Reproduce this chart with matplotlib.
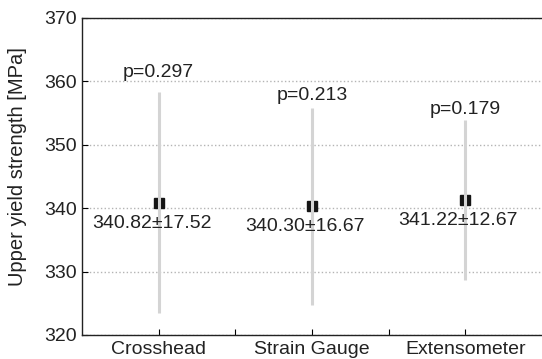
import numpy as np
import matplotlib
matplotlib.use("Agg")
import matplotlib.pyplot as plt

plt.rcParams['font.family'] = ['Liberation Sans', 'DejaVu Sans']

# data
methods = ['Crosshead', 'Strain Gauge', 'Extensometer']
means = [340.82, 340.30, 341.22]
sds = [17.52, 16.67, 12.67]
p_values = [0.297, 0.213, 0.179]
# whisker ends
bar_low = [323.5, 324.8, 328.6]
bar_high = [358.3, 355.8, 353.9]
p_label_y = [361.4, 357.7, 355.5]

x = np.arange(1, len(methods) + 1)

fig = plt.figure(figsize=(5.42, 3.59), dpi=100)
ax = fig.add_axes([0.151, 0.067, 0.849, 0.883])

# markers first, grey line drawn over them
ax.plot(x, means, 's', color='#151515', markersize=7, zorder=3)
ax.vlines(x, bar_low, bar_high, color='#d4d4d4', lw=2.2, zorder=4)

for xi, m, s, p, py in zip(x, means, sds, p_values, p_label_y):
    ax.text(xi - 0.045, m - 3.2, f'{m:.2f}\u00b1{s:.2f}', ha='center', va='center',
            fontsize=14, color='#222222', zorder=5)
    ax.text(xi, py, f'p={p:.3f}', ha='center', va='center',
            fontsize=14, color='#222222', zorder=5)

ax.set_xlim(0.5, 3.5)
ax.set_ylim(320, 370)
ax.set_xticks(x)
ax.set_xticks([1.5, 2.5], minor=True)
ax.set_xticklabels(methods)
ax.set_yticks(np.arange(320, 371, 10))
ax.tick_params(axis='both', which='both', direction='in', labelsize=14,
               labelcolor='#222222', length=4, width=0.8)
ax.tick_params(axis='x', pad=4)
ax.set_ylabel('Upper yield strength [MPa]', fontsize=14.5, color='#222222')
ax.yaxis.set_label_coords(-0.12, 0.53)
ax.yaxis.grid(True, linestyle=':', color='#b4b4b4', lw=1.0)
ax.set_axisbelow(True)
ax.spines['right'].set_visible(False)
for sp in ['left', 'bottom', 'top']:
    ax.spines[sp].set_color('#222222')
    ax.spines[sp].set_linewidth(1.0)

fig.savefig('out.png', dpi=100)
